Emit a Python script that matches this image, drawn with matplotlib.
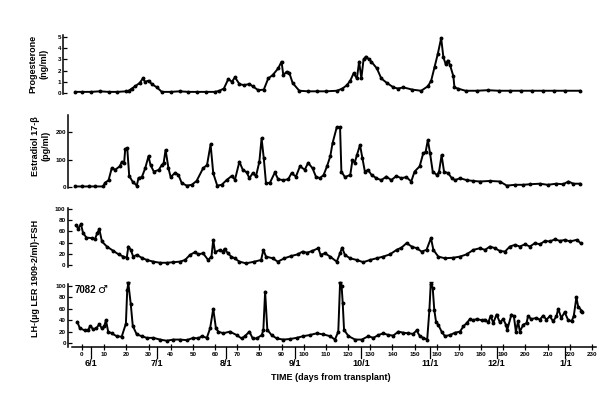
import matplotlib
import matplotlib.pyplot as plt

matplotlib.use("agg", force=True)

# --- data (days from transplant) ---
prog_days = [-3, 0, 4, 8, 12, 16, 20,
             21, 22.5, 24, 26, 27.5, 28.4, 30, 31.5, 33.8, 36,
             40, 44, 48, 52, 56, 60,
             62, 64, 66, 67.6, 69, 71, 73, 75.5, 77, 79.5,
             82, 84, 86, 88.5, 90, 90.8, 92.3, 93.5, 95, 98,
             102, 106, 110, 115,
             117.5, 119.5, 121, 122.5, 124, 125, 126, 127, 128, 129.5,
             130.5, 133, 135, 137.5, 140.5, 142.5, 145, 149, 153,
             156, 157.5, 159, 160.5, 162, 163, 164, 165, 166, 167.5,
             168, 169.5, 173, 178, 183, 188, 193, 198, 203, 208,
             213, 218, 224.6]
prog_vals = [0.1, 0.1, 0.1, 0.15, 0.1, 0.1, 0.15,
             0.2, 0.4, 0.6, 0.9, 1.3, 1.0, 1.1, 0.8, 0.5, 0.1,
             0.1, 0.15, 0.1, 0.1, 0.1, 0.1,
             0.2, 0.4, 1.25, 1.0, 1.4, 0.8, 0.7, 0.8, 0.6, 0.25,
             0.3, 1.3, 1.6, 2.2, 2.8, 1.6, 1.9, 1.8, 0.9, 0.2,
             0.15, 0.15, 0.15, 0.2,
             0.4, 0.7, 1.1, 1.75, 1.3, 2.8, 1.3, 3.0, 3.25, 3.0,
             2.8, 2.2, 1.3, 0.9, 0.5, 0.4, 0.5, 0.3, 0.2,
             0.6, 1.1, 2.3, 3.5, 4.9, 3.2, 2.6, 2.9, 2.5, 1.5,
             0.5, 0.4, 0.2, 0.2, 0.25, 0.2, 0.2, 0.2, 0.2, 0.2,
             0.2, 0.2, 0.2]

estr_days = [-3, 0, 3, 6, 9.5, 10.4, 12, 13.4, 15, 17,
             18, 19, 19.5, 20.4, 21.3, 22.8, 24.7, 25.5, 27, 28.5,
             30, 30.9, 32.4, 34.6, 36, 36.8, 37.7, 39, 40, 42,
             43.5, 45, 47.3, 49.5, 51.7, 54.6, 56.4, 58, 59.2, 61,
             63, 65.2, 67.5, 69, 71, 72.5, 74.3, 75.5, 77, 78.5,
             80, 81, 82, 83, 84.8, 87, 88.5, 90.8, 93, 94.5,
             96.5, 98.3, 100.5, 102, 104, 105.5, 107.3, 109, 110.5, 112,
             113, 114.9, 116.4, 117, 118.6, 121, 122, 123, 124, 125.4,
             126.5, 127.6, 129, 130.6, 132.8, 135, 137.3, 139.5, 141.8, 144,
             146.3, 148.5, 150, 152.3, 153.9, 155, 156, 157, 158.2, 160,
             161, 162.2, 163.3, 165.2, 166.8, 168.3, 170.5, 173.5, 176.5, 179.5,
             184, 188.5, 191.6, 195.3, 199, 202, 206.6, 210, 214, 217,
             219.4, 221.6, 224.6]
estr_vals = [2, 2, 2, 2, 2, 15, 25, 68, 63, 75,
             92, 88, 138, 142, 40, 20, 5, 33, 36, 68,
             112, 80, 56, 62, 80, 86, 135, 68, 36, 52,
             44, 14, 5, 8, 22, 68, 80, 155, 50, 5,
             8, 25, 40, 27, 92, 63, 53, 32, 50, 40,
             92, 177, 104, 13, 16, 53, 28, 25, 28, 50,
             38, 75, 63, 88, 68, 38, 32, 44, 75, 112,
             159, 217, 217, 56, 36, 44, 98, 88, 116, 153,
             104, 56, 62, 44, 32, 25, 38, 25, 40, 32,
             36, 20, 56, 75, 122, 128, 171, 122, 56, 44,
             53, 116, 56, 50, 32, 25, 32, 25, 22, 20,
             22, 20, 5, 8, 8, 10, 12, 8, 12, 10,
             20, 12, 12]

fsh_days = [-2.7, -1.7, -0.5, 0.5, 2, 4.3, 5.8, 6.9, 7.8, 9,
            11.2, 14.2, 16.5, 18.7, 20.2, 20.9, 22, 23.1, 24.7, 26.9,
            29.2, 32.2, 35.2, 38.2, 41.2, 44.2, 46.5, 48.7, 51, 52.5,
            54.6, 56.9, 58.4, 59.2, 60, 62.2, 63.5, 64.3, 65.8, 67.3,
            68.8, 71, 74, 77.8, 80.8, 81.8, 83, 86, 88.3, 91.3,
            94.3, 97.3, 99.5, 101.5, 103.8, 106.6, 107.6, 109.6, 111.9, 114.9,
            116.4, 117.3, 118.6, 120.9, 123.9, 126.9, 129.9, 132.9, 135.9, 138.9,
            141.9, 144.1, 146.4, 148.7, 150.9, 153.2, 155.4, 157.4, 158.5, 160.7,
            163.7, 167.5, 170.5, 173.5, 176.5, 179.5, 181.8, 184, 186.3, 188.5,
            190.8, 193, 195.3, 197.5, 199.8, 202, 204.3, 206.6, 208.8, 211.1,
            213.3, 215.6, 217.9, 220.1, 223.2, 224.9]
fsh_vals = [71, 65, 73, 57, 49, 48, 46, 57, 64, 42,
            33, 25, 19, 15, 13, 33, 27, 15, 18, 13,
            9, 6, 4, 4, 5, 6, 9, 18, 23, 19,
            21, 9, 15, 45, 23, 27, 24, 29, 21, 15,
            12, 6, 3, 6, 9, 27, 15, 12, 6, 12,
            16, 19, 24, 22, 25, 30, 18, 21, 15, 6,
            21, 31, 18, 12, 9, 5, 9, 12, 15, 19,
            27, 31, 39, 33, 30, 24, 27, 48, 27, 15,
            12, 13, 15, 19, 27, 30, 27, 33, 30, 25,
            24, 33, 36, 33, 37, 33, 39, 37, 43, 42,
            46, 43, 45, 42, 45, 39]

lh_days = [-2.1, -1, 1.3, 2.7, 3.8, 5, 6.5, 7.8, 8.9, 10,
           10.8, 11.8, 13.4, 15.6, 17.9, 19.8, 20.4, 20.9, 22, 22.9,
           24.7, 26.9, 29.2, 32.2, 35.2, 38.2, 41.2, 44.2, 47.2, 50.2,
           52.5, 54, 56.3, 57.8, 59.2, 60.4, 61.5, 63.7, 66.7, 69.7,
           72, 73.5, 75.5, 77, 78.8, 81.1, 81.8, 82.6, 83.6, 85.5,
           87.8, 90.8, 93.8, 96.8, 99.8, 102.8, 105.9, 108.9, 111.9, 114.1,
           115.6, 116.4, 117.1, 117.6, 118.2, 120.2, 123.2, 126.2, 129.2, 131.4,
           133.7, 135.9, 138.2, 140.4, 142.7, 145, 147.2, 149.4, 150.9, 152.4,
           153.9, 155.7, 156.7, 157.3, 158.2, 158.9, 159.7, 160.7, 162.2, 163.7,
           166, 168.2, 170.5, 172, 173.5, 175, 176.5, 178, 180.3, 181.8,
           183.3, 184.3, 185.5, 187, 188.5, 190, 191.2, 191.8, 193.7, 194.8,
           195.7, 196.7, 197.5, 199, 200.5, 201.2, 202.7, 205, 206.5, 208,
           209.5, 211, 212.5, 214, 214.8, 216.2, 217.7, 219.2, 220.8, 221.8,
           223, 223.8, 225.3, 225.7]
lh_vals = [37, 26, 22, 23, 30, 24, 26, 33, 26, 29,
           40, 20, 17, 12, 11, 34, 93, 105, 68, 30,
           15, 12, 9, 9, 6, 4, 6, 6, 5, 9,
           8, 12, 9, 26, 60, 26, 20, 17, 20, 14,
           8, 12, 20, 8, 8, 14, 23, 90, 23, 14,
           8, 6, 7, 9, 12, 14, 17, 15, 12, 6,
           20, 105, 100, 70, 23, 12, 6, 6, 12, 9,
           14, 17, 14, 13, 20, 18, 17, 16, 22, 12,
           9, 6, 58, 104, 96, 58, 37, 32, 20, 12,
           14, 18, 20, 29, 35, 42, 40, 42, 40, 41,
           36, 48, 35, 50, 36, 42, 32, 23, 50, 47,
           20, 38, 20, 32, 35, 47, 42, 44, 41, 48,
           41, 47, 38, 47, 60, 44, 54, 41, 38, 47,
           80, 64, 57, 54]

# off-scale LH peaks and their true values
lh_peak_days = [20.9, 116.4, 157.3]
lh_peak_labels = ["190", "154", "144"]

month_days = [4, 34, 65, 96, 126, 157, 187, 218]
month_labels = ["6/1", "7/1", "8/1", "9/1", "10/1", "11/1", "12/1", "1/1"]

# --- layout (pixel based, 610x398) ---
W, H = 610, 398
X0, PPD = 82, 2.217          # pixel of day 0, pixels per day
XMIN, XMAX = -9, 232

plt.rcParams["font.family"] = ["Liberation Sans", "DejaVu Sans"]
plt.rcParams["font.weight"] = "bold"

fig = plt.figure(figsize=(W / 100, H / 100), dpi=100)


def make_axes(zero_px, ppu, ylo, yhi, spine_day):
    left = X0 + XMIN * PPD
    width = (XMAX - XMIN) * PPD
    bottom = zero_px - ylo * ppu
    top = zero_px - yhi * ppu
    ax = fig.add_axes([left / W, 1 - bottom / H, width / W, (bottom - top) / H])
    ax.set_xlim(XMIN, XMAX)
    ax.set_ylim(ylo, yhi)
    ax.patch.set_alpha(0)
    for s in ["top", "right", "bottom"]:
        ax.spines[s].set_visible(False)
    ax.spines["left"].set_position(("data", spine_day))
    ax.spines["left"].set_linewidth(1.1)
    ax.tick_params(axis="y", direction="in", length=3, width=0.9,
                   labelsize=4.5, pad=1.5)
    ax.set_xticks([])
    return ax


def draw(ax, days, vals):
    ax.plot(days, vals, color="black", lw=1.4, marker="o", ms=1.8,
            clip_on=False)


ax1 = make_axes(93, 11.2, -0.1, 5.2, -8.5)
ax1.set_yticks(range(0, 6))
draw(ax1, prog_days, prog_vals)

ax2 = make_axes(187, 0.275, -5, 262, -6.3)
ax2.set_yticks([0, 100, 200])
draw(ax2, estr_days, estr_vals)

ax3 = make_axes(265, 0.56, -4, 102, -6.5)
ax3.set_yticks(range(0, 101, 20))
draw(ax3, fsh_days, fsh_vals)

ax4 = make_axes(343, 0.57, -7, 103, -6.3)
ax4.set_yticks(range(0, 101, 20))
draw(ax4, lh_days, lh_vals)

# x axis on the bottom panel
ax4.spines["bottom"].set_visible(True)
ax4.spines["bottom"].set_linewidth(1.1)
ax4.spines["bottom"].set_bounds(-4.5, 232)
ax4.set_xticks(range(0, 231, 10))
ax4.tick_params(axis="x", direction="inout", length=5, width=0.9,
                labelsize=4.5, pad=1)

for d, lab in zip(month_days, month_labels):
    ax4.plot([d, d], [0, -0.17], color="black", lw=0.9,
             transform=ax4.get_xaxis_transform(), clip_on=False)
    ax4.annotate(lab, xy=(d, 0), xycoords=("data", "axes fraction"),
                 xytext=(0, -12), textcoords="offset points",
                 ha="center", va="center", fontsize=6.5)

# off-scale peak labels
for d, lab in zip(lh_peak_days, lh_peak_labels):
    ax4.plot(d, 107, marker="_", ms=3, mew=1, color="black", clip_on=False)
    ax4.annotate(lab, xy=(d, 105), xytext=(2.5, 0), textcoords="offset points",
                 ha="left", va="center", fontsize=5)

ax4.text(-3.5, 93, "7082", fontsize=7, ha="left", va="center")
ax4.text(6.8, 93, "\u2642", fontsize=8, ha="left", va="center",
         family="DejaVu Sans", fontweight="normal")

# axis titles
fig.text(33 / W, 1 - 64 / H, "Progesterone", rotation=90, ha="center",
         va="center", fontsize=6.5)
fig.text(44 / W, 1 - 64 / H, "(ng/ml)", rotation=90, ha="center",
         va="center", fontsize=6.5)
fig.text(35 / W, 1 - 146 / H, "Estradiol 17-\u03b2", rotation=90,
         ha="center", va="center", fontsize=6.5)
fig.text(46 / W, 1 - 146 / H, "(pg/ml)", rotation=90, ha="center",
         va="center", fontsize=6.5)
fig.text(35 / W, 1 - 278 / H, "LH-(\u00b5g LER 1909-2/ml)-FSH", rotation=90,
         ha="center", va="center", fontsize=6.5)
fig.text(331 / W, 1 - 377 / H, "TIME (days from transplant)", ha="center",
         va="center", fontsize=6.5)

fig.savefig("out.png", dpi=100)
print("Images were generated")
